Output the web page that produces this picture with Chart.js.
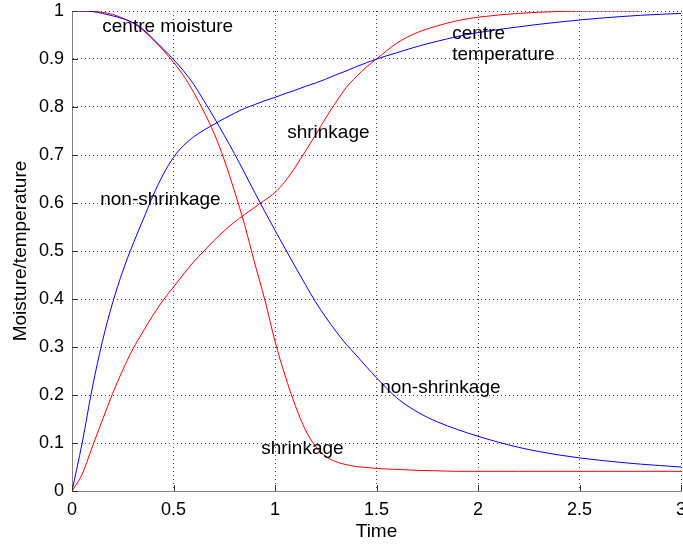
<!DOCTYPE html>
<html>
<head>
<meta charset="utf-8">
<script src="https://cdn.jsdelivr.net/npm/chart.js@4/dist/chart.umd.min.js"></script>
<style>
  html, body { margin: 0; padding: 0; background: #fff; }
  canvas { display: block; }
</style>
</head>
<body>
<canvas id="dryingChart" width="683" height="548"></canvas>
<script>
// time axis shared by all four curves
const time = [0, 0.05, 0.1, 0.15, 0.2, 0.25, 0.3, 0.35, 0.4, 0.45, 0.5, 0.55, 0.6, 0.65, 0.7, 0.75,
    0.8, 0.85, 0.9, 0.95, 1.0, 1.05, 1.1, 1.15, 1.2, 1.25, 1.3, 1.35, 1.4, 1.45, 1.5, 1.6, 1.7, 1.8,
    1.9, 2.0, 2.2, 2.4, 2.6, 2.8, 3.0];

// centre moisture, non-shrinkage model
const moistureNonShrink = [1, 1, 0.999, 0.995, 0.99, 0.984, 0.976, 0.962, 0.942, 0.921, 0.899, 0.875,
    0.847, 0.813, 0.778, 0.741, 0.703, 0.663, 0.622, 0.582, 0.543, 0.505, 0.467, 0.43, 0.394, 0.362,
    0.333, 0.306, 0.283, 0.259, 0.236, 0.194, 0.165, 0.144, 0.128, 0.114, 0.091, 0.075, 0.064, 0.056, 0.05];

// centre moisture, shrinkage model
const moistureShrink = [1, 1, 0.999, 0.997, 0.993, 0.985, 0.975, 0.96, 0.94, 0.918, 0.893, 0.865,
    0.83, 0.79, 0.745, 0.69, 0.625, 0.555, 0.475, 0.398, 0.312, 0.24, 0.178, 0.127, 0.093, 0.072,
    0.061, 0.055, 0.051, 0.049, 0.047, 0.045, 0.043, 0.042, 0.041, 0.041, 0.041, 0.041, 0.041, 0.041, 0.041];

// centre temperature, non-shrinkage model
const tempNonShrink = [0, 0.1, 0.215, 0.312, 0.392, 0.458, 0.514, 0.565, 0.616, 0.66, 0.695, 0.72,
    0.738, 0.752, 0.764, 0.776, 0.787, 0.797, 0.805, 0.813, 0.82, 0.828, 0.835, 0.843, 0.85, 0.858,
    0.867, 0.875, 0.884, 0.892, 0.9, 0.913, 0.926, 0.937, 0.947, 0.955, 0.967, 0.977, 0.985, 0.991, 0.995];

// centre temperature, shrinkage model (stops at t = 2.8)
const tempShrink = [0, 0.035, 0.092, 0.148, 0.203, 0.252, 0.296, 0.332, 0.367, 0.398, 0.425, 0.452,
    0.478, 0.5, 0.522, 0.542, 0.56, 0.576, 0.591, 0.606, 0.622, 0.645, 0.675, 0.708, 0.742, 0.777,
    0.81, 0.84, 0.863, 0.883, 0.9, 0.933, 0.955, 0.969, 0.98, 0.987, 0.995, 0.999, 1.0, 1.0, null];

const xTickLabels = ['0', '0.5', '1', '1.5', '2', '2.5', '3'];
const yTickLabels = ['0', '0.1', '0.2', '0.3', '0.4', '0.5', '0.6', '0.7', '0.8', '0.9', '1'];

// in-plot annotations, anchored at (time, value) of their left edge
const noteText = ['centre moisture', 'non-shrinkage', 'shrinkage', 'centre', 'temperature', 'non-shrinkage', 'shrinkage'];
const noteTime = [0.149, 0.139, 1.06, 1.873, 1.873, 1.518, 0.932];
const noteValue = [0.968, 0.607, 0.747, 0.953, 0.909, 0.215, 0.088];

const FONT = '"Liberation Sans", Arial, sans-serif';

function series(values) {
    return time.map((t, i) => ({ x: t, y: values[i] }));
}

function line(values, color) {
    return {
        data: series(values),
        borderColor: color,
        borderWidth: 1,
        pointRadius: 0,
        fill: false,
        cubicInterpolationMode: 'monotone',
        spanGaps: false
    };
}

// text labels drawn inside the plot
const notesPlugin = {
    id: 'notes',
    afterDatasetsDraw(chart) {
        const { ctx, scales: { x, y } } = chart;
        ctx.save();
        ctx.font = '19px ' + FONT;
        ctx.fillStyle = '#000';
        ctx.textAlign = 'left';
        ctx.textBaseline = 'middle';
        noteText.forEach((txt, i) => {
            ctx.fillText(txt, x.getPixelForValue(noteTime[i]), y.getPixelForValue(noteValue[i]));
        });
        ctx.restore();
    }
};

// short tick marks pointing into the plot
const innerTicks = {
    id: 'innerTicks',
    afterDraw(chart) {
        const { ctx, chartArea, scales: { x, y } } = chart;
        ctx.save();
        ctx.strokeStyle = '#333';
        ctx.lineWidth = 1;
        ctx.beginPath();
        x.ticks.forEach(tk => {
            const px = Math.round(x.getPixelForValue(tk.value)) + 0.5;
            ctx.moveTo(px, chartArea.bottom);
            ctx.lineTo(px, chartArea.bottom - 6);
        });
        y.ticks.forEach(tk => {
            const py = Math.round(y.getPixelForValue(tk.value)) + 0.5;
            ctx.moveTo(chartArea.left, py);
            ctx.lineTo(chartArea.left + 6, py);
        });
        ctx.stroke();
        ctx.restore();
    }
};

const ctx = document.getElementById('dryingChart').getContext('2d');
const chart = new Chart(ctx, {
    type: 'line',
    data: {
        datasets: [
            line(moistureNonShrink, '#0000ff'),
            line(moistureShrink, '#ff0000'),
            line(tempNonShrink, '#0000ff'),
            line(tempShrink, '#ff0000')
        ]
    },
    options: {
        responsive: false,
        animation: false,
        events: [],
        layout: { padding: { top: 11, right: 2, left: 0, bottom: 0 } },
        plugins: {
            legend: { display: false },
            tooltip: { enabled: false }
        },
        scales: {
            x: {
                type: 'linear',
                min: 0,
                max: 3,
                ticks: {
                    stepSize: 0.5,
                    padding: 8,
                    color: '#000',
                    font: { family: FONT, size: 18 },
                    maxRotation: 0,
                    callback: (v, i) => xTickLabels[i]
                },
                grid: { color: '#444', lineWidth: 1, drawTicks: false },
                // solid axis line, dotted grid lines
                border: { display: true, color: '#808080', width: 1, dash: [1, 3] },
                title: {
                    display: true,
                    text: 'Time',
                    color: '#000',
                    font: { family: FONT, size: 19 },
                    padding: { top: 0, bottom: 5 }
                },
                afterFit(scale) {
                    scale.height = 57;
                    scale.paddingLeft = 0;
                    scale.paddingRight = 0;
                }
            },
            y: {
                type: 'linear',
                min: 0,
                max: 1,
                ticks: {
                    stepSize: 0.1,
                    padding: 8,
                    color: '#000',
                    font: { family: FONT, size: 18 },
                    callback: (v, i) => yTickLabels[i]
                },
                grid: { color: '#444', lineWidth: 1, drawTicks: false },
                border: { display: true, color: '#808080', width: 1, dash: [1, 3] },
                title: {
                    display: true,
                    text: 'Moisture/temperature',
                    color: '#000',
                    font: { family: FONT, size: 19 },
                    padding: { top: 9, bottom: 0 }
                },
                afterFit(scale) {
                    scale.width = 72;
                    scale.paddingTop = 0;
                    scale.paddingBottom = 0;
                }
            }
        }
    },
    plugins: [notesPlugin, innerTicks]
});
</script>
</body>
</html>
